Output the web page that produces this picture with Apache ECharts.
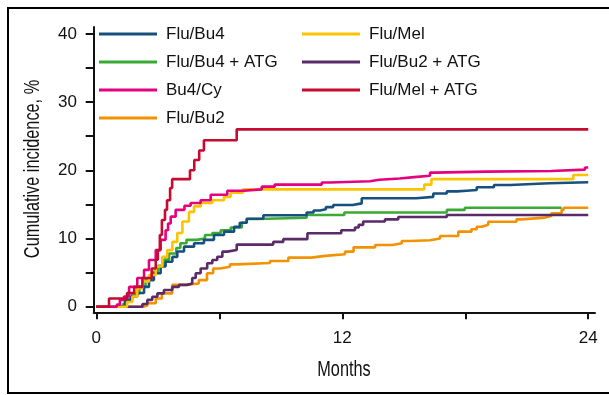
<!DOCTYPE html>
<html>
<head>
<meta charset="utf-8">
<script src="https://cdn.jsdelivr.net/npm/echarts@6/dist/echarts.min.js"></script>
<style>html,body{margin:0;padding:0;background:#fff}#c{width:609px;height:395px}</style>
</head>
<body>
<div id="c"></div>
<script>
// Months / cumulative incidence (%) step points for each regimen
const fluBu4 = [[0,0],[1.2,0.25],[1.4,1.0],[1.68,1.5],[2.0,2.0],[2.33,2.9],[2.57,3.9],[2.81,4.9],[3.14,5.9],[3.38,6.6],[3.71,7.3],[3.95,8.1],[4.28,8.8],[4.77,9.3],[5.25,9.8],[5.74,10.5],[6.23,11.0],[6.72,11.7],[7.0,12.3],[7.34,12.9],[8.15,13.4],[10.26,13.8],[10.6,14.1],[10.9,14.3],[11.2,14.6],[11.56,14.9],[12.5,15.15],[12.95,15.9],[15.6,16.1],[16.44,16.6],[17.1,16.9],[17.6,17.0],[18.07,17.1],[18.56,17.5],[19.4,17.85],[20.2,18.1],[22.1,18.25],[24,18.3]];
const fluBu4ATG = [[0,0],[1.3,0.4],[1.5,1.0],[1.75,1.9],[2.1,3.0],[2.4,4.0],[2.75,5.1],[3.0,6.0],[3.3,6.9],[3.55,7.8],[3.9,8.6],[4.1,9.3],[4.4,9.8],[4.9,10.0],[5.3,10.5],[5.66,10.8],[6.07,11.2],[6.56,11.6],[7.1,12.3],[7.34,12.86],[7.82,13.05],[10.26,13.45],[12.1,13.8],[17.1,14.2],[17.98,14.5],[22.7,14.5]];
const bu4Cy = [[0,0],[1.0,0.3],[1.15,1.0],[1.35,1.5],[1.6,2.9],[2.0,4.2],[2.33,5.4],[2.57,6.85],[2.9,8.3],[3.14,9.8],[3.38,11.2],[3.5,12.2],[3.63,13.2],[3.87,14.2],[4.3,14.8],[4.6,15.2],[5.09,15.6],[5.58,16.4],[6.39,17.0],[7.2,17.2],[8.07,17.6],[8.7,17.9],[11.0,18.2],[11.4,18.4],[13.35,18.6],[13.8,18.8],[14.8,19.0],[15.5,19.2],[16.28,19.65],[16.5,19.8],[19.04,19.9],[22.2,20.1],[23.84,20.4],[24,20.4]];
const fluBu2 = [[0,0],[2.3,0.2],[2.5,0.5],[2.9,1.2],[3.2,1.96],[3.7,3.2],[4.35,3.4],[5.0,3.9],[5.4,4.9],[5.7,5.6],[6.04,5.87],[6.52,6.2],[6.85,6.4],[8.47,6.7],[9.37,7.2],[10.5,7.45],[11.16,7.7],[12.13,8.07],[12.55,8.7],[13.6,9.05],[14.45,9.3],[14.9,9.63],[15.3,9.75],[16.28,10.0],[16.77,10.37],[17.66,11.0],[18.3,11.36],[18.56,11.73],[18.8,12.0],[19.12,12.46],[20.5,12.8],[20.75,13.06],[21.9,13.3],[22.2,13.7],[22.7,14.2],[22.8,14.5],[24,14.5]];
const fluMel = [[0,0],[1.5,0.7],[1.76,1.5],[2.0,2.7],[2.24,3.7],[2.57,4.65],[2.9,5.9],[3.22,7.3],[3.46,8.3],[3.71,9.5],[3.95,10.8],[4.2,12.5],[4.52,13.9],[4.77,14.7],[5.09,15.2],[5.66,15.6],[6.23,16.1],[6.55,16.7],[7.15,17.2],[16.0,17.9],[16.35,18.7],[23.27,19.3],[24,19.3]];
const fluBu2ATG = [[0,0],[2.25,0.4],[2.49,1.0],[2.73,1.47],[2.98,1.96],[3.3,2.45],[3.71,2.9],[4.03,3.2],[4.44,3.4],[4.68,4.2],[4.85,4.9],[5.09,5.6],[5.41,6.36],[5.66,6.85],[5.9,7.33],[6.15,8.07],[6.39,8.3],[6.85,9.1],[8.63,9.5],[9.12,9.9],[10.3,10.76],[11.95,11.2],[12.62,11.6],[12.8,12.0],[13.02,12.5],[14.08,12.8],[14.73,13.15],[17.1,13.45],[24,13.45]];
const fluMelATG = [[0,0],[0.62,1.2],[1.5,2.0],[1.85,2.9],[2.25,4.2],[2.7,5.6],[2.9,6.9],[3.0,8.3],[3.1,10.5],[3.2,12.7],[3.35,14.2],[3.45,15.6],[3.6,17.4],[3.7,18.7],[4.57,20.0],[4.78,21.5],[5.02,22.9],[5.25,24.4],[6.85,26.0],[24,26.0]];

const legendCol1 = ['Flu/Bu4','Flu/Bu4 + ATG','Bu4/Cy','Flu/Bu2'];
const legendCol2 = ['Flu/Mel','Flu/Bu2 + ATG','Flu/Mel + ATG'];
const xTicks = [0,6,12,18,24];
const xLabels = [0,12,24];
const yTicks = [0,5,10,15,20,25,30,35,40];
const yLabels = [0,10,20,30,40];
const xTitle = 'Months';
const yTitle = 'Cumulative incidence, %';

const colors = {
  'Flu/Bu4':'#17507f',
  'Flu/Bu4 + ATG':'#3ba935',
  'Bu4/Cy':'#e5007d',
  'Flu/Bu2':'#f39200',
  'Flu/Mel':'#fdc300',
  'Flu/Bu2 + ATG':'#5b2a68',
  'Flu/Mel + ATG':'#c50b2f'
};
const dataByName = {
  'Flu/Bu4':fluBu4,'Flu/Bu4 + ATG':fluBu4ATG,'Bu4/Cy':bu4Cy,'Flu/Bu2':fluBu2,
  'Flu/Mel':fluMel,'Flu/Bu2 + ATG':fluBu2ATG,'Flu/Mel + ATG':fluMelATG
};
const drawOrder = ['Flu/Bu2','Flu/Bu2 + ATG','Flu/Bu4 + ATG','Flu/Bu4','Flu/Mel','Bu4/Cy','Flu/Mel + ATG'];

const tickFont = 'Liberation Sans, Arial, Helvetica, sans-serif';
const titleFont = '22px "Liberation Sans", Arial, sans-serif';

const legendBase = {
  orient:'vertical', top:24, padding:0, itemWidth:58, itemHeight:3, itemGap:8,
  icon:'rect', selectedMode:false,
  textStyle:{fontFamily:tickFont, fontSize:17, color:'#111', lineHeight:20, padding:[0,0,0,4]}
};

const chart = echarts.init(document.getElementById('c'), null, {renderer:'canvas'});
chart.setOption({
  animation:false,
  backgroundColor:'#fff',
  graphic:[
    {type:'rect', shape:{x:8,y:8,width:700,height:385}, style:{fill:'none', stroke:'#000', lineWidth:2}, z:-1},
    {type:'text', x:344, y:370, scaleX:0.74,
     style:{text:xTitle, font:titleFont, fill:'#111', textAlign:'center', textVerticalAlign:'middle'}},
    {type:'text', x:32.5, y:169, rotation:Math.PI/2, scaleX:0.74,
     style:{text:yTitle, font:titleFont, fill:'#111', textAlign:'center', textVerticalAlign:'middle'}}
  ],
  grid:{left:93.7, right:14, top:27, bottom:82.7},
  legend:[
    Object.assign({}, legendBase, {left:99, data:legendCol1}),
    Object.assign({}, legendBase, {left:302, data:legendCol2})
  ],
  xAxis:{
    type:'value', min:-0.127, max:24.33,
    axisLine:{show:true, onZero:false, lineStyle:{color:'#111', width:2}},
    axisTick:{show:true, inside:false, length:7, lineStyle:{color:'#111', width:2}, customValues:xTicks},
    axisLabel:{customValues:xLabels, margin:18, fontFamily:tickFont, fontSize:17, color:'#111'},
    splitLine:{show:false}
  },
  yAxis:{
    type:'value', min:-0.82, max:41,
    axisLine:{show:true, onZero:false, lineStyle:{color:'#111', width:2}},
    axisTick:{show:true, inside:false, length:8, lineStyle:{color:'#111', width:2}, customValues:yTicks},
    axisLabel:{customValues:yLabels, margin:16.7, fontFamily:tickFont, fontSize:17, color:'#111'},
    splitLine:{show:false}
  },
  series: drawOrder.map(n => ({
    name:n, type:'line', step:'end', data:dataByName[n], showSymbol:false, symbol:'none',
    color:colors[n], lineStyle:{width:2.6, color:colors[n]}, itemStyle:{color:colors[n]}
  }))
});
</script>
</body>
</html>
